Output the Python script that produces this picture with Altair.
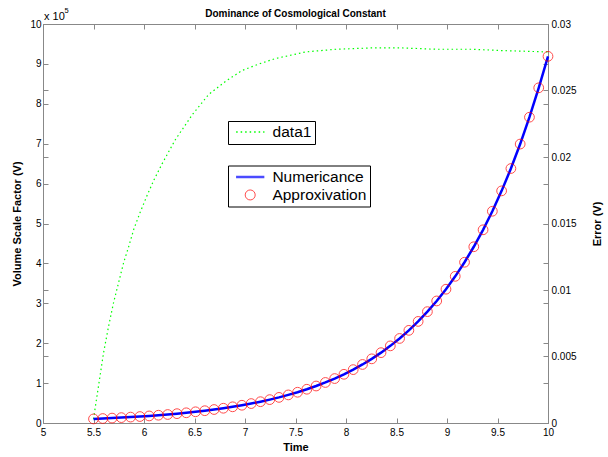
import altair as alt
import pandas as pd

# ---------------- data ----------------
time = [5.5, 5.5918, 5.6837, 5.7755, 5.8673, 5.9592, 6.0510, 6.1429, 6.2347, 6.3265,
        6.4184, 6.5102, 6.6020, 6.6939, 6.7857, 6.8776, 6.9694, 7.0612, 7.1531, 7.2449,
        7.3367, 7.4286, 7.5204, 7.6122, 7.7041, 7.7959, 7.8878, 7.9796, 8.0714, 8.1633,
        8.2551, 8.3469, 8.4388, 8.5306, 8.6224, 8.7143, 8.8061, 8.8980, 8.9898, 9.0816,
        9.1735, 9.2653, 9.3571, 9.4490, 9.5408, 9.6327, 9.7245, 9.8163, 9.9082, 10.0]
volume = [0.102, 0.112, 0.123, 0.135, 0.148, 0.162, 0.177, 0.195, 0.213, 0.234,
          0.256, 0.281, 0.308, 0.338, 0.370, 0.406, 0.445, 0.487, 0.534, 0.586,
          0.642, 0.704, 0.771, 0.846, 0.927, 1.016, 1.114, 1.221, 1.338, 1.467,
          1.608, 1.763, 1.933, 2.119, 2.322, 2.546, 2.791, 3.059, 3.353, 3.676,
          4.029, 4.417, 4.842, 5.307, 5.818, 6.378, 6.991, 7.664, 8.401, 9.190]

err_t = [5.5, 5.55, 5.6, 5.65, 5.7, 5.75, 5.8, 5.85, 5.9, 5.96, 6.03, 6.1, 6.18, 6.31,
         6.48, 6.64, 6.81, 6.97, 7.14, 7.3, 7.6, 7.9, 8.25, 8.55, 8.9, 9.25, 9.55, 10.0]
err_v = [0.0003, 0.0028, 0.0053, 0.0073, 0.0091, 0.0106, 0.0121, 0.0133, 0.0146, 0.0158,
         0.0171, 0.0183, 0.0195, 0.0213, 0.0232, 0.0247, 0.0257, 0.0265, 0.0270, 0.0274,
         0.0279, 0.0281, 0.0282, 0.0282, 0.0281, 0.0281, 0.0280, 0.0279]

x_ticks = [5, 5.5, 6, 6.5, 7, 7.5, 8, 8.5, 9, 9.5, 10]
y_left_ticks = [0, 1, 2, 3, 4, 5, 6, 7, 8, 9, 10]
y_right_ticks = [0, 0.005, 0.01, 0.015, 0.02, 0.025, 0.03]
series_names = ["Numericance", "Approxivation"]
err_name = ["data1"]

# ---------------- layout ----------------
W, H = 505, 399
FONT = "Liberation Sans"
LINE_SYMBOL = "M-2,0H2"   # horizontal line legend symbol

main_line = pd.DataFrame({"t": time, "v": volume, "series": series_names[0]})
main_pts = pd.DataFrame({"t": time, "v": volume, "series": series_names[1]})
err = pd.DataFrame({"t": err_t, "e": err_v, "name": err_name[0]})
leg_df = pd.DataFrame({"series": series_names})

xs = alt.Scale(domain=[5, 10], nice=False, zero=False)
yl = alt.Scale(domain=[0, 10], nice=False)
yr = alt.Scale(domain=[0, 0.03], nice=False)


def tick_axis(orient, offset, values, domain=False):
    return alt.Axis(orient=orient, offset=offset, values=values, labels=False,
                    domain=domain, ticks=True, tickSize=5, title=None, grid=False)


LEG_COMMON = dict(orient="none", title=None, strokeColor="black", fillColor="white",
                  padding=3, labelFont=FONT, labelFontSize=15.5, labelColor="black",
                  cornerRadius=0, labelExpr="datum.label + '\u00a0\u00a0'")

green = alt.Chart(err).mark_line(color="#00ff00", strokeWidth=1.2).encode(
    x=alt.X("t:Q", scale=xs, axis=None),
    y=alt.Y("e:Q", scale=yr, axis=alt.Axis(
        orient="right", values=y_right_ticks, format="~g", ticks=False, tickSize=0,
        labelPadding=3, labelFlush=False, labelOverlap=False, grid=False,
        title="Error (V)", titleAngle=270, titleX=49, titleY=H / 2,
        titleBaseline="middle", titleAlign="center")),
    strokeDash=alt.StrokeDash("name:N", scale=alt.Scale(domain=err_name, range=[[1.5, 3]]),
                              legend=alt.Legend(legendX=185, legendY=97,
                                                symbolType=LINE_SYMBOL, symbolSize=200,
                                                symbolStrokeColor="#00ff00",
                                                symbolStrokeWidth=1.3,
                                                symbolOffset=11.3, labelOffset=14.3,
                                                **LEG_COMMON)),
)

blue = alt.Chart(main_line).mark_line(color="#0000ff", strokeWidth=2.5).encode(
    x=alt.X("t:Q", scale=xs, axis=alt.Axis(
        orient="bottom", values=x_ticks, format="~g", ticks=False, tickSize=0,
        labelPadding=4, labelFlush=False, labelOverlap=False, grid=False,
        title="Time", titleX=W / 2, titleY=24, titleBaseline="middle")),
    y=alt.Y("v:Q", scale=yl, axis=alt.Axis(
        orient="left", values=y_left_ticks, format="d", ticks=False, tickSize=0,
        labelPadding=2, labelFlush=False, labelOverlap=False, grid=False,
        title="Volume Scale Factor (V)", titleAngle=270, titleX=-26, titleY=H / 2,
        titleBaseline="middle", titleAlign="center")),
)

circles = alt.Chart(main_pts).mark_point(shape="circle", filled=False, color="#ff0000",
                                          size=95, strokeWidth=1).encode(
    x=alt.X("t:Q", scale=xs, axis=None),
    y=alt.Y("v:Q", scale=yl, axis=None),
)

leg = alt.Legend(legendX=185, legendY=141.5, rowPadding=1.7,
                 symbolOffset=10.7, labelOffset=13.7, **LEG_COMMON)
legend_layer = alt.Chart(leg_df).mark_point(filled=False, clip=True).encode(
    x=alt.value(-200), y=alt.value(-200),
    color=alt.Color("series:N", scale=alt.Scale(domain=series_names, range=["#0000ff", "#ff0000"]),
                    legend=leg),
    shape=alt.Shape("series:N", scale=alt.Scale(domain=series_names, range=[LINE_SYMBOL, "circle"]),
                    legend=leg),
    size=alt.Size("series:N", scale=alt.Scale(domain=series_names, range=[200, 100]),
                  legend=leg),
    strokeWidth=alt.StrokeWidth("series:N", scale=alt.Scale(domain=series_names, range=[2.5, 1]),
                                legend=leg),
)

tick_a = alt.Chart(main_line).mark_point(opacity=0).encode(
    x=alt.X("t:Q", scale=xs, axis=tick_axis("top", -H, x_ticks)),
    y=alt.Y("v:Q", scale=yl, axis=tick_axis("right", -W, y_left_ticks)),
)
tick_b = alt.Chart(main_line).mark_point(opacity=0).encode(
    x=alt.X("t:Q", scale=xs, axis=tick_axis("bottom", -H, x_ticks, domain=True)),
    y=alt.Y("v:Q", scale=yl, axis=tick_axis("left", -W, y_left_ticks)),
)
tick_c = alt.Chart(err).mark_point(opacity=0).encode(
    x=alt.X("t:Q", scale=xs, axis=None),
    y=alt.Y("e:Q", scale=yr, axis=tick_axis("right", -W, y_right_ticks)),
)
tick_d = alt.Chart(err).mark_point(opacity=0).encode(
    x=alt.X("t:Q", scale=xs, axis=None),
    y=alt.Y("e:Q", scale=yr, axis=tick_axis("left", -W, y_right_ticks)),
)

exp_base = alt.Chart(pd.DataFrame({"txt": ["x 10"]})).mark_text(
    align="left", baseline="alphabetic", font=FONT, fontSize=11, color="black"
).encode(x=alt.value(1), y=alt.value(-4), text="txt:N")
exp_pow = alt.Chart(pd.DataFrame({"txt": ["5"]})).mark_text(
    align="left", baseline="alphabetic", font=FONT, fontSize=7.5, color="black"
).encode(x=alt.value(21.5), y=alt.value(-11), text="txt:N")

chart = alt.layer(
    green, blue, circles, legend_layer, tick_a, tick_b, tick_c, tick_d, exp_base, exp_pow
).resolve_scale(
    y="independent"
).resolve_axis(
    x="independent", y="independent"
).properties(
    width=W, height=H,
    title=alt.TitleParams("Dominance of Cosmological Constant", font=FONT, fontSize=10,
                          fontWeight="bold", anchor="middle", frame="group", offset=0,
                          dy=12, color="black"),
    autosize=alt.AutoSizeParams(type="none"),
    padding={"left": 43, "top": 24, "right": 60, "bottom": 34},
).configure_axis(
    labelFont=FONT, titleFont=FONT, labelFontSize=11, titleFontSize=10.5,
    titleFontWeight="bold", labelColor="black", titleColor="black",
    domainColor="black", tickColor="black", domainWidth=1, tickWidth=1,
).configure_view(stroke="transparent").configure(background="white")

chart.save("out.html", embed_options={"renderer": "svg", "actions": False})
